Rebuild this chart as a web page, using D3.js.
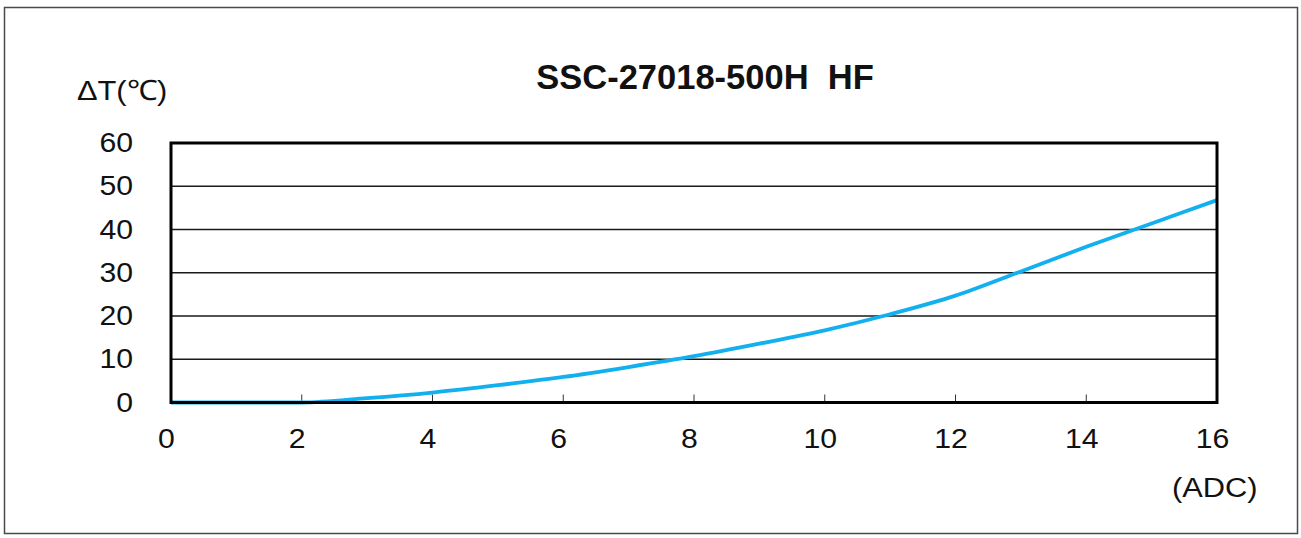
<!DOCTYPE html>
<html>
<head>
<meta charset="utf-8">
<script src="https://cdn.jsdelivr.net/npm/d3@7"></script>
<style>
  html, body { margin: 0; padding: 0; background: #fff; }
  svg { display: block; }
  text { font-family: "Liberation Sans", Arial, sans-serif; fill: #111; }
</style>
</head>
<body>
<svg id="chart" width="1301" height="538"></svg>
<script>
// ---- data ----
const current = [0, 1, 2, 3, 4, 5, 6, 7, 8, 9, 10, 11, 12, 13, 14, 15, 16]; // ADC
const deltaT  = [0, 0, 0, 1.0, 2.3, 4.0, 5.9, 8.2, 10.7, 13.6, 16.7, 20.4, 24.7, 30.3, 36.0, 41.4, 46.8]; // °C
const xTicks = [0, 2, 4, 6, 8, 10, 12, 14, 16];
const yTicks = [0, 10, 20, 30, 40, 50, 60];
const title = "SSC-27018-500H\u00a0\u00a0HF";
const yLabel = "ΔT(℃)";
const xLabel = "(ADC)";

// ---- layout ----
const svg = d3.select("#chart");
const L = 171, R = 1217, T = 143, B = 402.5;
const SX = 1.12; // horizontal stretch of the text in the original
const FS = 27;

const x = d3.scaleLinear().domain([0, 16]).range([L, R]);
const y = d3.scaleLinear().domain([0, 60]).range([B, T]);

// outer frame
svg.append("rect")
  .attr("x", 4.5).attr("y", 7.5).attr("width", 1293).attr("height", 526)
  .attr("fill", "none").attr("stroke", "#4a4a4a").attr("stroke-width", 1.5);

// gridlines
svg.append("g").selectAll("line")
  .data(yTicks.filter(v => v > 0 && v < 60))
  .join("line")
  .attr("x1", L).attr("x2", R)
  .attr("y1", d => y(d)).attr("y2", d => y(d))
  .attr("stroke", "#1a1a1a").attr("stroke-width", 1.5);

// small x tick marks inside plot
svg.append("g").selectAll("line")
  .data(xTicks.filter(v => v > 0 && v < 16))
  .join("line")
  .attr("x1", d => x(d)).attr("x2", d => x(d))
  .attr("y1", B).attr("y2", B - 8)
  .attr("stroke", "#333").attr("stroke-width", 1);

// y axis labels
const yAxis = d3.axisLeft(y).tickValues(yTicks).tickSize(0).tickPadding(38);
const gy = svg.append("g").attr("transform", `translate(${L},0)`).call(yAxis);
gy.select(".domain").remove();
gy.selectAll("text")
  .attr("font-size", FS)
  .attr("font-family", "Liberation Sans, Arial, sans-serif")
  .attr("fill", "#111")
  .attr("x", -38 / SX)
  .attr("transform", `scale(${SX},1)`);

// x axis labels
const xAxis = d3.axisBottom(x).tickValues(xTicks).tickSize(0).tickPadding(26);
const gx = svg.append("g").attr("transform", `translate(-5,${B})`).call(xAxis);
gx.select(".domain").remove();
gx.selectAll("text")
  .attr("font-size", FS)
  .attr("font-family", "Liberation Sans, Arial, sans-serif")
  .attr("fill", "#111")
  .attr("transform", `scale(${SX},1)`);

// line
const line = d3.line()
  .x((d, i) => x(current[i]))
  .y(d => y(d))
  .curve(d3.curveMonotoneX);

svg.append("path")
  .datum(deltaT)
  .attr("d", line)
  .attr("fill", "none")
  .attr("stroke", "#12b0ee")
  .attr("stroke-width", 3.8)
  .attr("stroke-linejoin", "round");

// plot frame
svg.append("rect")
  .attr("x", L).attr("y", T).attr("width", R - L).attr("height", B - T)
  .attr("fill", "none").attr("stroke", "#000").attr("stroke-width", 3);

// title
svg.append("text")
  .attr("x", 705).attr("y", 88.5)
  .attr("text-anchor", "middle")
  .attr("font-size", 34.5).attr("font-weight", "bold")
  .text(title);

svg.append("text")
  .attr("transform", `translate(77,100) scale(1.1,1)`)
  .attr("font-size", 28)
  .text(yLabel);

svg.append("text")
  .attr("transform", `translate(1172,497) scale(1.1,1)`)
  .attr("font-size", 28)
  .text(xLabel);
</script>
</body>
</html>
